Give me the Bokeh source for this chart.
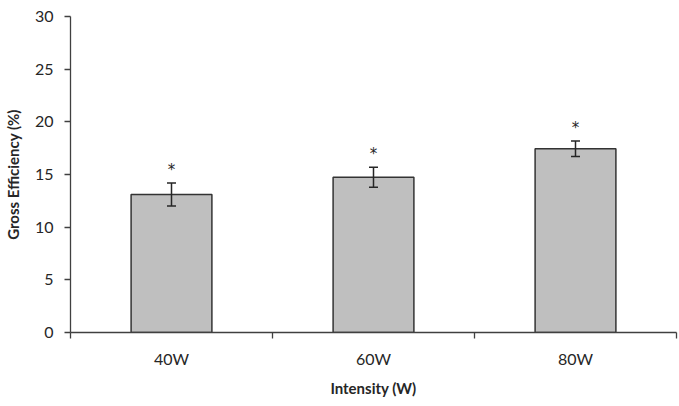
from bokeh.plotting import figure
from bokeh.models import ColumnDataSource, FixedTicker, Range1d, Whisker, TeeHead
from bokeh.core.properties import value
from bokeh.embed import file_html
from bokeh.resources import INLINE

# Gross efficiency by exercise intensity (mean ± SD)
categories = ["40W", "60W", "80W"]
efficiency = [13.1, 14.75, 17.45]
sd = [1.1, 0.95, 0.73]
y_ticks = [0, 5, 10, 15, 20, 25, 30]

pos = [i + 0.5 for i in range(len(categories))]
src = ColumnDataSource(dict(
    x=pos,
    top=efficiency,
    upper=[m + s for m, s in zip(efficiency, sd)],
    lower=[m - s for m, s in zip(efficiency, sd)],
    star=["*"] * len(categories),
))

FONT = "Lato"
INK = "#262626"

p = figure(width=679, height=406, output_backend="svg", toolbar_location=None,
           x_range=Range1d(0, len(categories)), y_range=Range1d(0, 30),
           min_border_left=69, min_border_right=3, min_border_top=16, min_border_bottom=74)
p.outline_line_color = None
p.xgrid.visible = False
p.ygrid.visible = False
p.background_fill_color = "white"
p.border_fill_color = "white"

p.vbar(x="x", top="top", width=0.4, bottom=0, source=src,
       fill_color="#bfbfbf", line_color="#333333", line_width=1.5)

cap = dict(size=9, line_color=INK, line_width=1.5)
p.add_layout(Whisker(source=src, base="x", upper="upper", lower="lower",
                     line_color=INK, line_width=1.5, level="overlay",
                     upper_head=TeeHead(**cap), lower_head=TeeHead(**cap)))

p.text(x="x", y="upper", text="star", source=src, text_align="center",
       text_baseline="middle", y_offset=-13, text_font=value("DejaVu Sans"),
       text_font_size="15px", text_color=INK)

# x axis: labels centred on the bars, ticks at the category boundaries
xa = p.xaxis[0]
xa.ticker = FixedTicker(ticks=pos, minor_ticks=list(range(len(categories) + 1)))
xa.major_label_overrides = {x: c for x, c in zip(pos, categories)}
xa.major_tick_out = 0
xa.major_tick_in = 0
xa.minor_tick_out = 6
xa.minor_tick_in = 0
xa.minor_tick_line_color = "#404040"
xa.minor_tick_line_width = 1.3
xa.major_label_standoff = 10
xa.axis_label = "Intensity (W)"
xa.axis_label_standoff = 8

ya = p.yaxis[0]
ya.ticker = FixedTicker(ticks=y_ticks, minor_ticks=[])
ya.major_tick_out = 6
ya.major_tick_in = 0
ya.major_tick_line_color = "#404040"
ya.major_tick_line_width = 1.3
ya.major_label_standoff = 11
ya.axis_label = "Gross Efficiency (%)"
ya.axis_label_standoff = 10

for ax in (xa, ya):
    ax.axis_line_color = "#404040"
    ax.axis_line_width = 1.3
    ax.major_label_text_font = FONT
    ax.major_label_text_font_size = "16px"
    ax.major_label_text_color = INK
    ax.axis_label_text_font = FONT
    ax.axis_label_text_font_size = "15px"
    ax.axis_label_text_font_style = "bold"
    ax.axis_label_text_color = INK

open("out.html", "w").write(file_html(p, INLINE))
